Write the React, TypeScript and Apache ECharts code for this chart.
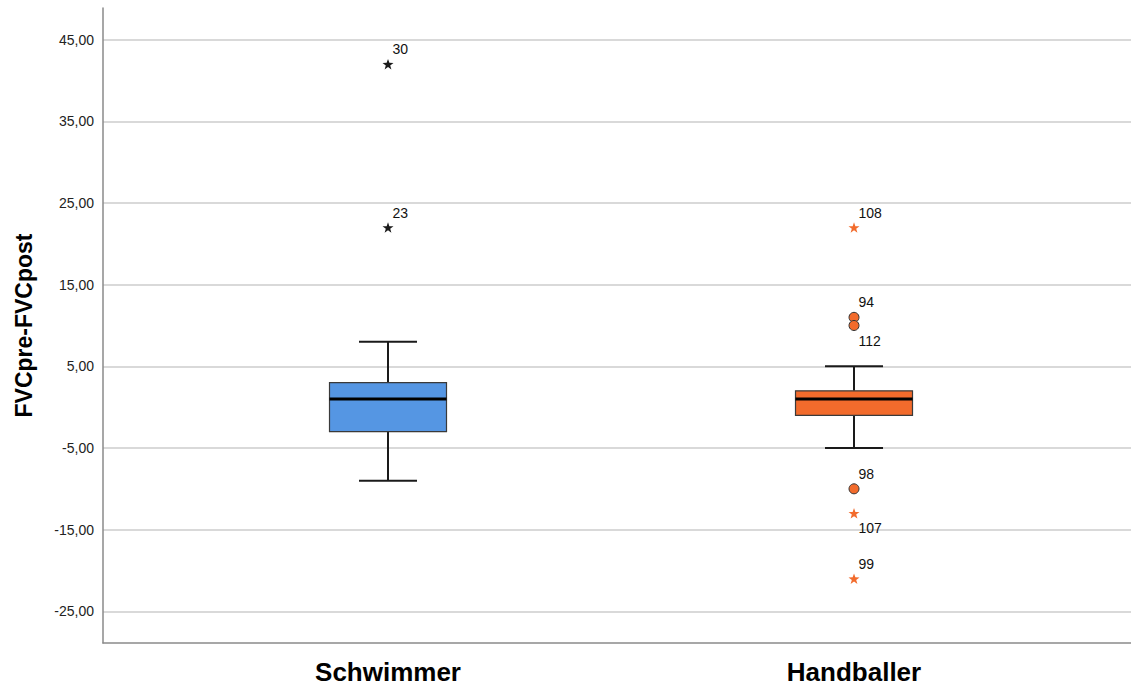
import React, { useEffect, useRef } from "react";
import * as echarts from "echarts";

// ---- data ----
const categories = ["Schwimmer", "Handballer"];
// [min whisker, Q1, median, Q3, max whisker]
const boxStats = [
  [-9, -3, 1, 3, 8],
  [-5, -1, 1, 2, 5],
];
const yTicks = [-25, -15, -5, 5, 15, 25, 35, 45];

// extreme outliers (stars)
const extremeGroup = [0, 0, 1, 1, 1];
const extremeValues = [42, 22, 22, -13, -21];
const extremeIds = ["30", "23", "108", "107", "99"];
const extremeLabelBelow = [false, false, false, true, false];

// mild outliers (circles)
const mildGroup = [1, 1, 1];
const mildValues = [11, 10, -10];
const mildIds = ["94", "112", "98"];
const mildLabelBelow = [false, true, false];

const groupColors = ["#5596E3", "#F26B2C"];
const extremeColors = ["#1a1a1a", "#F26B2C"];

const STAR =
  "path://M0 -1 L0.235 -0.324 L0.951 -0.309 L0.380 0.124 L0.588 0.809 L0 0.4 L-0.588 0.809 L-0.380 0.124 L-0.951 -0.309 L-0.235 -0.324 Z";

const FONT = 'Arial, "Liberation Sans", sans-serif';

function makeLabel(below: boolean) {
  return {
    show: true,
    position: "right",
    distance: 0,
    offset: [-1, below ? 15 : -15],
    color: "#111",
    opacity: 1,
    fontSize: 14,
    fontFamily: FONT,
  };
}

export default function App() {
  const ref = useRef<HTMLDivElement>(null);
  useEffect(() => {
    if (!ref.current) return;
    const chart = echarts.init(ref.current, undefined, { renderer: "svg" });

    const boxData = boxStats.map((s, i) => [i + 1, ...s]);

    const extremeData = extremeValues.map((v, i) => ({
      value: [extremeGroup[i] + 1, v],
      name: extremeIds[i],
      itemStyle: { color: extremeColors[extremeGroup[i]], opacity: 1 },
      label: makeLabel(extremeLabelBelow[i]),
    }));

    const mildData = mildValues.map((v, i) => ({
      value: [mildGroup[i] + 1, v],
      name: mildIds[i],
      itemStyle: { color: groupColors[mildGroup[i]], opacity: 1 },
      label: makeLabel(mildLabelBelow[i]),
    }));

    const option: any = {
      animation: false,
      grid: { left: 103, right: 0, top: 8, bottom: 45 },
      xAxis: {
        type: "value",
        min: 0.3884,
        max: 2.5944,
        axisLine: { show: true, onZero: false, lineStyle: { color: "#8a8a8a", width: 1.5 } },
        axisTick: { show: false, customValues: [1, 2] },
        splitLine: { show: false },
        axisLabel: {
          customValues: [1, 2],
          formatter: (v: number) => categories[Math.round(v) - 1] ?? "",
          fontSize: 26,
          fontWeight: "bold",
          fontFamily: FONT,
          color: "#000",
          margin: 16,
        },
      },
      yAxis: {
        type: "value",
        min: -28.88,
        max: 48.88,
        name: "FVCpre-FVCpost",
        nameLocation: "middle",
        nameRotate: 90,
        nameGap: 68,
        nameTextStyle: { fontSize: 23, fontWeight: "bold", fontFamily: FONT, color: "#000" },
        axisLine: { show: true, onZero: false, lineStyle: { color: "#8a8a8a", width: 1.5 } },
        axisTick: { show: false, customValues: yTicks },
        splitLine: { show: true, lineStyle: { color: "#cdcdcd", width: 1.5 } },
        axisLabel: {
          customValues: yTicks,
          formatter: (v: number) => v.toFixed(2).replace(".", ","),
          fontSize: 14,
          fontFamily: FONT,
          color: "#222",
          margin: 9,
        },
      },
      series: [
        {
          type: "custom",
          data: boxData,
          encode: { x: 0, y: [1, 2, 3, 4, 5] },
          z: 2,
          renderItem: (params: any, api: any) => {
            const x = api.value(0);
            const idx = Math.round(x) - 1;
            const pMin = api.coord([x, api.value(1)]);
            const pQ1 = api.coord([x, api.value(2)]);
            const pMed = api.coord([x, api.value(3)]);
            const pQ3 = api.coord([x, api.value(4)]);
            const pMax = api.coord([x, api.value(5)]);
            const bw = 117;
            const cw = 58;
            const cx = pMed[0];
            const lineStyle = { stroke: "#1a1a1a", lineWidth: 2 };
            return {
              type: "group",
              children: [
                { type: "line", shape: { x1: cx, y1: pMax[1], x2: cx, y2: pQ3[1] }, style: lineStyle },
                { type: "line", shape: { x1: cx, y1: pQ1[1], x2: cx, y2: pMin[1] }, style: lineStyle },
                { type: "line", shape: { x1: cx - cw / 2, y1: pMax[1], x2: cx + cw / 2, y2: pMax[1] }, style: lineStyle },
                { type: "line", shape: { x1: cx - cw / 2, y1: pMin[1], x2: cx + cw / 2, y2: pMin[1] }, style: lineStyle },
                {
                  type: "rect",
                  shape: { x: cx - bw / 2, y: pQ3[1], width: bw, height: pQ1[1] - pQ3[1] },
                  style: { fill: groupColors[idx], stroke: "#3a3a3a", lineWidth: 1.2 },
                },
                {
                  type: "line",
                  shape: { x1: cx - bw / 2, y1: pMed[1], x2: cx + bw / 2, y2: pMed[1] },
                  style: { stroke: "#000", lineWidth: 3 },
                },
              ],
            };
          },
        },
        {
          type: "scatter",
          data: extremeData,
          symbol: STAR,
          symbolSize: 11,
          symbolKeepAspect: true,
          z: 3,
          label: { formatter: (p: any) => p.name },
        },
        {
          type: "scatter",
          data: mildData,
          symbol: "circle",
          symbolSize: 10,
          itemStyle: { borderColor: "#333", borderWidth: 1, opacity: 1 },
          z: 3,
          label: { formatter: (p: any) => p.name },
        },
      ],
    };
    chart.setOption(option);
    return () => chart.dispose();
  }, []);

  return (
    <div
      ref={ref}
      style={{ position: "absolute", left: 0, top: 0, width: 1131, height: 688, background: "#fff" }}
    />
  );
}
